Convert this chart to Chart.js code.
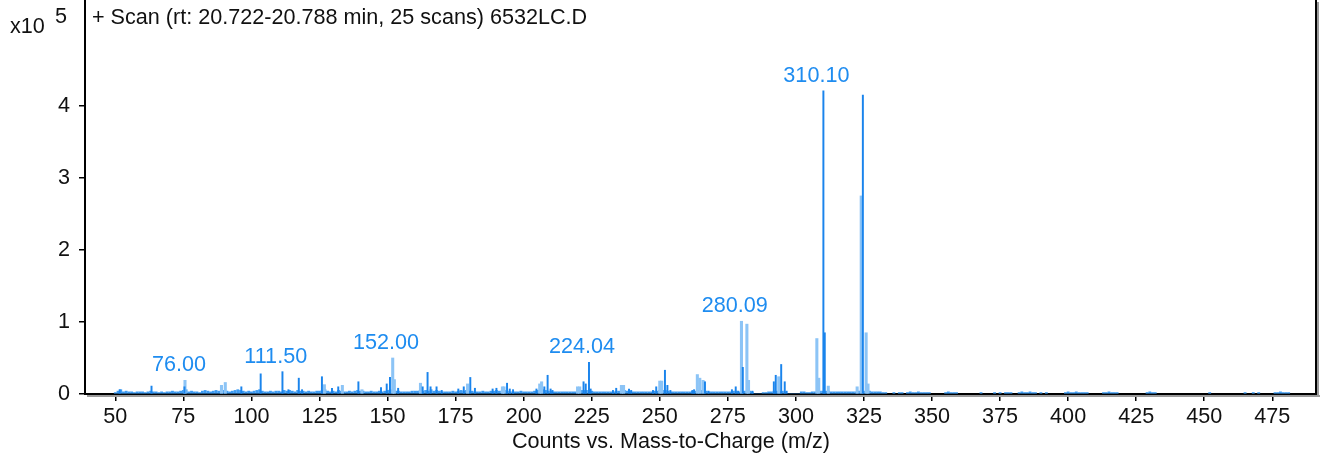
<!DOCTYPE html>
<html>
<head>
<meta charset="utf-8">
<script src="https://cdn.jsdelivr.net/npm/chart.js@4.4.1/dist/chart.umd.min.js"></script>
<style>
    html, body { margin: 0; padding: 0; background: #fff; }
    #wrap { width: 1322px; height: 461px; }
</style>
</head>
<body>
<div id="wrap"><canvas id="spectrum"></canvas></div>
<script>
// Axis ticks
const xTicks = [50, 75, 100, 125, 150, 175, 200, 225, 250, 275, 300, 325, 350, 375, 400, 425, 450, 475];
const yTicks = [0, 1, 2, 3, 4];

// Centroid sticks (m/z, counts x10^5)
const stickMz = [51.6, 63.3, 75.4, 96.3, 103.4, 111.4, 113.6, 117.4, 118.6, 125.9, 129.6, 131.9, 139.3, 147.6,
    149.7, 150.9, 153.9, 162.9, 164.7, 165.8, 168.0, 169.9, 176.0, 178.0, 180.4, 182.1, 188.6, 190.0, 193.9,
    194.9, 196.1, 204.7, 207.6, 208.8, 209.9, 210.6, 222.0, 222.8, 224.0, 224.6, 232.8, 234.0, 238.7, 239.5,
    247.5, 248.7, 251.9, 252.8, 253.9, 262.0, 262.6, 266.6, 267.9, 276.5, 277.9, 278.8, 280.5, 284.0, 291.9,
    292.6, 294.6, 295.9, 296.6, 310.1, 310.6, 324.6];
const stickInt = [0.06, 0.11, 0.10, 0.10, 0.28, 0.31, 0.06, 0.22, 0.06, 0.24, 0.08, 0.10, 0.17, 0.09,
    0.14, 0.23, 0.08, 0.10, 0.30, 0.10, 0.10, 0.05, 0.07, 0.10, 0.23, 0.08, 0.07, 0.08, 0.15,
    0.07, 0.06, 0.07, 0.10, 0.26, 0.07, 0.05, 0.17, 0.14, 0.44, 0.07, 0.05, 0.08, 0.07, 0.05,
    0.05, 0.10, 0.33, 0.12, 0.05, 0.05, 0.06, 0.17, 0.04, 0.06, 0.10, 0.04, 0.37, 0.04, 0.17,
    0.26, 0.41, 0.17, 0.04, 4.21, 0.85, 4.15];

// Profile bars (lighter)
const profileMz = [75.6, 89.0, 90.4, 126.8, 133.4, 140.6, 151.9, 152.5, 162.1, 179.4, 192.2, 192.8, 205.9, 206.6,
    219.8, 220.6, 235.9, 236.7, 250.0, 250.7, 263.8, 264.7, 265.9, 280.0, 282.0, 282.6, 293.7, 307.7, 308.4,
    311.9, 322.5, 324.0, 325.8, 326.5];
const profileInt = [0.19, 0.12, 0.16, 0.13, 0.12, 0.06, 0.50, 0.20, 0.15, 0.14, 0.10, 0.10, 0.14, 0.17,
    0.10, 0.10, 0.12, 0.12, 0.18, 0.18, 0.27, 0.22, 0.19, 1.01, 0.97, 0.19, 0.24, 0.77, 0.22,
    0.11, 0.10, 2.75, 0.85, 0.14];

// Low noise band, one value per unit mass from 50 to 330
const baseStartMz = 50;
const baseInt = [
    0.02, 0.04, 0.06, 0.03, 0.04, 0.03, 0.03, 0.02, 0.03, 0.03,
    0.03, 0.02, 0.03, 0.04, 0.03, 0.03, 0.02, 0.03, 0.02, 0.03,
    0.03, 0.04, 0.03, 0.03, 0.04, 0.05, 0.06, 0.03, 0.04, 0.03,
    0.03, 0.02, 0.04, 0.05, 0.04, 0.03, 0.04, 0.05, 0.04, 0.06,
    0.05, 0.04, 0.03, 0.04, 0.05, 0.06, 0.05, 0.04, 0.03, 0.04,
    0.03, 0.04, 0.05, 0.06, 0.04, 0.03, 0.03, 0.04, 0.03, 0.04,
    0.04, 0.03, 0.05, 0.04, 0.05, 0.04, 0.03, 0.05, 0.04, 0.04,
    0.03, 0.04, 0.03, 0.03, 0.04, 0.04, 0.05, 0.06, 0.04, 0.03,
    0.04, 0.03, 0.05, 0.04, 0.03, 0.03, 0.04, 0.03, 0.04, 0.05,
    0.04, 0.04, 0.03, 0.03, 0.04, 0.03, 0.03, 0.04, 0.03, 0.04,
    0.05, 0.06, 0.05, 0.04, 0.04, 0.03, 0.03, 0.03, 0.03, 0.04,
    0.04, 0.04, 0.05, 0.04, 0.05, 0.04, 0.06, 0.04, 0.05, 0.04,
    0.03, 0.03, 0.03, 0.03, 0.04, 0.03, 0.04, 0.05, 0.04, 0.05,
    0.04, 0.04, 0.03, 0.03, 0.03, 0.04, 0.03, 0.03, 0.04, 0.04,
    0.05, 0.04, 0.04, 0.05, 0.04, 0.03, 0.03, 0.03, 0.03, 0.04,
    0.03, 0.03, 0.03, 0.03, 0.04, 0.05, 0.05, 0.06, 0.05, 0.04,
    0.04, 0.03, 0.03, 0.03, 0.03, 0.03, 0.03, 0.03, 0.03, 0.03,
    0.04, 0.05, 0.05, 0.05, 0.05, 0.04, 0.03, 0.03, 0.03, 0.03,
    0.03, 0.03, 0.03, 0.03, 0.04, 0.04, 0.05, 0.05, 0.04, 0.04,
    0.03, 0.03, 0.03, 0.03, 0.03, 0.03, 0.03, 0.03, 0.04, 0.04,
    0.05, 0.05, 0.05, 0.04, 0.03, 0.03, 0.03, 0.03, 0.03, 0.03,
    0.03, 0.03, 0.04, 0.04, 0.05, 0.05, 0.04, 0.04, 0.03, 0.03,
    0.03, 0.03, 0.03, 0.03, 0.03, 0.03, 0.03, 0.04, 0.04, 0.03,
    0.04, 0.04, 0.04, 0.04, 0.03, 0.00, 0.00, 0.00, 0.02, 0.02,
    0.03, 0.03, 0.04, 0.04, 0.04, 0.04, 0.03, 0.00, 0.00, 0.00,
    0.00, 0.00, 0.03, 0.03, 0.02, 0.02, 0.03, 0.03, 0.04, 0.04,
    0.04, 0.04, 0.04, 0.03, 0.03, 0.03, 0.03, 0.03, 0.03, 0.03,
    0.03, 0.03, 0.03, 0.04, 0.04, 0.04, 0.04, 0.04, 0.03, 0.03,
    0.03
];

// Sparse noise above 330
const tailMz = [331, 332, 333, 336, 338, 339, 341, 342, 343, 344, 345, 346, 347, 348, 349, 355, 356, 357, 358, 359,
    368, 373, 375, 377, 378, 379, 382, 383, 384, 385, 386, 387, 388, 390, 392, 399, 400, 401, 402, 403, 404,
    405, 406, 407, 413, 414, 415, 416, 417, 418, 429, 430, 431, 432, 452, 465, 468, 470, 476, 477, 478, 479, 480, 481];
const tailInt = [0.03, 0.02, 0.02, 0.02, 0.02, 0.02, 0.02, 0.03, 0.02, 0.02, 0.03, 0.02, 0.02, 0.02, 0.02, 0.02, 0.03, 0.02, 0.02, 0.02,
    0.02, 0.02, 0.02, 0.02, 0.02, 0.02, 0.02, 0.03, 0.02, 0.02, 0.03, 0.02, 0.02, 0.02, 0.02, 0.02, 0.03, 0.02, 0.02, 0.03, 0.02,
    0.02, 0.02, 0.02, 0.02, 0.02, 0.03, 0.02, 0.02, 0.02, 0.02, 0.03, 0.02, 0.02, 0.02, 0.02, 0.02, 0.02, 0.02, 0.02, 0.03, 0.02, 0.02, 0.02];

// Annotated peaks
const peakLabelMz = [76.00, 111.50, 152.00, 224.04, 280.09, 310.10];
const peakLabels = ['76.00', '111.50', '152.00', '224.04', '280.09', '310.10'];

const FONT = '"Liberation Sans", Arial, sans-serif';
const FSIZE = 21.6;
const BLUE = '#1e8cf0';

const stickPts = stickMz.map((m, i) => ({ x: m, y: stickInt[i] }));
const profilePts = profileMz.map((m, i) => ({ x: m, y: profileInt[i] }));
const basePts = baseInt.map((v, i) => ({ x: baseStartMz + i, y: v }))
    .concat(tailMz.map((m, i) => ({ x: m, y: tailInt[i] })));
const allPts = stickPts.concat(profilePts);

const decorations = {
    id: 'decorations',
    afterDraw(chart) {
        const c = chart.ctx;
        const a = chart.chartArea;
        const xs = chart.scales.x;
        const ys = chart.scales.y;
        c.save();
        // shadow + right frame
        c.fillStyle = '#9a9a9a';
        c.fillRect(a.left + 2, a.bottom + 1, a.right - a.left + 2, 2);
        c.fillRect(a.right + 1, 2, 2, a.bottom - 1);
        c.fillStyle = '#000';
        c.fillRect(a.right - 1, 0, 2, a.bottom + 1);

        c.font = FSIZE + 'px ' + FONT;
        c.fillStyle = '#111';
        c.textBaseline = 'alphabetic';
        c.textAlign = 'left';
        c.fillText('x10', 10, 33);
        c.fillText('5', 55, 23);
        c.fillText('+ Scan (rt: 20.722-20.788 min, 25 scans) 6532LC.D', 92, 24);
        c.textAlign = 'center';
        c.fillText('Counts vs. Mass-to-Charge (m/z)', 671, 448);

        // peak labels
        c.fillStyle = BLUE;
        peakLabelMz.forEach((m, i) => {
            let top = 0;
            allPts.forEach(p => { if (Math.abs(p.x - m) <= 1.5 && p.y > top) top = p.y; });
            c.fillText(peakLabels[i], xs.getPixelForValue(m) - 7, ys.getPixelForValue(top) - 9);
        });
        c.restore();
    }
};

new Chart(document.getElementById('spectrum').getContext('2d'), {
    type: 'bar',
    data: {
        datasets: [
            { label: 'Centroid', data: stickPts, backgroundColor: '#1a84ec', barThickness: 1.3, grouped: false },
            { label: 'Profile', data: profilePts, backgroundColor: '#8cc4f6', barThickness: 2.4, grouped: false },
            { label: 'Noise', data: basePts, backgroundColor: '#3d9bf2', barThickness: 2.2, grouped: false }
        ]
    },
    options: {
        responsive: true,
        maintainAspectRatio: false,
        animation: false,
        layout: { padding: { top: 0, right: 6, left: 0, bottom: 0 } },
        plugins: {
            legend: { display: false },
            tooltip: { enabled: false }
        },
        scales: {
            x: {
                type: 'linear',
                offset: false,
                min: 38.87,
                max: 491.05,
                afterFit: (s) => { s.height = 67; s.paddingLeft = 0; s.paddingRight = 0; },
                afterBuildTicks: (s) => { s.ticks = xTicks.map(v => ({ value: v })); },
                grid: { offset: false, drawOnChartArea: false, drawTicks: true, tickLength: 7, color: '#000', lineWidth: 1.5 },
                border: { display: true, color: '#000', width: 2 },
                ticks: { color: '#111', font: { family: FONT, size: FSIZE }, padding: 3, maxRotation: 0, autoSkip: false }
            },
            y: {
                min: 0,
                max: 5.47,
                afterFit: (s) => { s.width = 85; s.paddingTop = 0; s.paddingBottom = 0; },
                afterBuildTicks: (s) => { s.ticks = yTicks.map(v => ({ value: v })); },
                grid: { drawOnChartArea: false, drawTicks: true, tickLength: 6, color: '#000', lineWidth: 1.5 },
                border: { display: true, color: '#000', width: 2 },
                ticks: { color: '#111', font: { family: FONT, size: FSIZE }, padding: 9 }
            }
        }
    },
    plugins: [decorations]
});
</script>
</body>
</html>
